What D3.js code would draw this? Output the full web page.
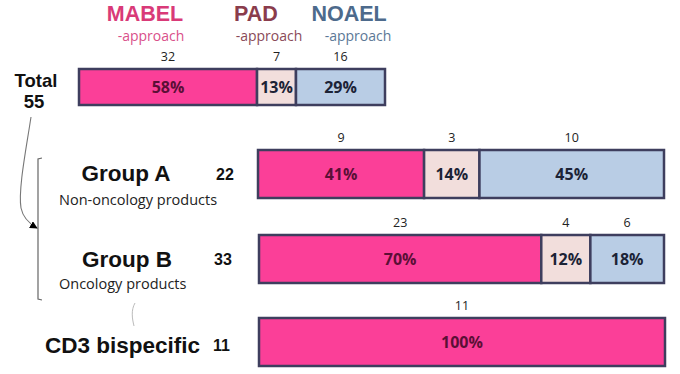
<!DOCTYPE html>
<html>
<head>
<meta charset="utf-8">
<script src="https://cdn.jsdelivr.net/npm/d3@7"></script>
<style>
  html, body { margin: 0; padding: 0; background: #fff; }
  svg { display: block; }
</style>
</head>
<body>
<svg id="chart" width="680" height="374"></svg>
<script>
// ---- data ----
const approaches = ["MABEL", "PAD", "NOAEL"];
const groups = ["Total", "Group A", "Group B", "CD3 bispecific"];
const subtitles = ["", "Non-oncology products", "Oncology products", ""];
const totals = [55, 22, 33, 11];
const mabelCounts = [32, 9, 23, 11];
const padCounts = [7, 3, 4, 0];
const noaelCounts = [16, 10, 6, 0];
const mabelPct = ["58%", "41%", "70%", "100%"];
const padPct = ["13%", "14%", "12%", ""];
const noaelPct = ["29%", "45%", "18%", ""];

// ---- styles ----
const fills = ["#FB3F98", "#F2DEDC", "#B9CDE5"];
const pctColors = ["#5B0F36", "#1C2336", "#1C2336"];
const headColors = ["#D93A78", "#8A3C4C", "#4D6A8C"];
const subColors = ["#D9508A", "#8A4A58", "#5C7896"];
const stroke = "#3E3E5E";
const sans = "'Liberation Sans', Arial, sans-serif";
const light = "'Open Sans', Lato, sans-serif";

const svg = d3.select("#chart");

// layout per row: bar extent and vertical position
const rows = [
  { x0: 79, x1: 385, y: 69, h: 36 },
  { x0: 258, x1: 664, y: 150, h: 48 },
  { x0: 259, x1: 664, y: 235, h: 48 },
  { x0: 259, x1: 665, y: 318, h: 48 }
];

// header
const headX = [145, 256, 349];
const subX = [151, 269, 358];
approaches.forEach((a, i) => {
  svg.append("text").attr("x", headX[i]).attr("y", 20.5)
    .attr("text-anchor", "middle").attr("font-family", sans)
    .attr("font-weight", "bold").attr("font-size", 21.5)
    .attr("fill", headColors[i]).text(a);
  svg.append("text").attr("x", subX[i]).attr("y", 40.5)
    .attr("text-anchor", "middle").attr("font-family", light)
    .attr("font-size", 14).attr("fill", subColors[i]).text("-approach");
});

groups.forEach((g, r) => {
  const L = rows[r];
  const x = d3.scaleLinear().domain([0, totals[r]]).range([L.x0, L.x1]);
  const counts = [mabelCounts[r], padCounts[r], noaelCounts[r]];
  const pcts = [mabelPct[r], padPct[r], noaelPct[r]];
  let cum = 0;
  const segs = counts.map((c, i) => {
    const s = { i, c, start: cum, end: cum + c, pct: pcts[i] };
    cum += c;
    return s;
  }).filter(s => s.c > 0);

  const gRow = svg.append("g");
  gRow.selectAll("rect").data(segs).join("rect")
    .attr("x", d => x(d.start)).attr("y", L.y)
    .attr("width", d => x(d.end) - x(d.start)).attr("height", L.h)
    .attr("fill", d => fills[d.i])
    .attr("stroke", stroke).attr("stroke-width", 2.5);

  gRow.selectAll("text.cnt").data(segs).join("text").attr("class", "cnt")
    .attr("x", d => (x(d.start) + x(d.end)) / 2).attr("y", L.y - 8)
    .attr("text-anchor", "middle").attr("font-family", light)
    .attr("font-size", 12.5).attr("fill", "#222").text(d => d.c);

  gRow.selectAll("text.pct").data(segs).join("text").attr("class", "pct")
    .attr("x", d => (x(d.start) + x(d.end)) / 2).attr("y", L.y + L.h / 2 + 6)
    .attr("text-anchor", "middle").attr("font-family", light)
    .attr("font-weight", "bold").attr("font-size", 16)
    .attr("fill", d => pctColors[d.i]).text(d => d.pct);
});

// left labels
svg.append("text").attr("x", 36).attr("y", 87).attr("text-anchor", "middle")
  .attr("font-family", sans).attr("font-weight", "bold").attr("font-size", 18.5)
  .attr("fill", "#111").text(groups[0]);
svg.append("text").attr("x", 34).attr("y", 108).attr("text-anchor", "middle")
  .attr("font-family", sans).attr("font-weight", "bold").attr("font-size", 18.5)
  .attr("fill", "#111").text(totals[0]);

const grpLabel = [null, { x: 126, y: 181, sy: 205, nx: 225, ny: 180 },
  { x: 127, y: 267, sy: 289, nx: 223, ny: 265 }];
[1, 2].forEach(r => {
  const p = grpLabel[r];
  svg.append("text").attr("x", p.x).attr("y", p.y).attr("text-anchor", "middle")
    .attr("font-family", sans).attr("font-weight", "bold").attr("font-size", 22.5)
    .attr("fill", "#111").text(groups[r]);
  svg.append("text").attr("x", 59).attr("y", p.sy)
    .attr("font-family", light).attr("font-size", 14.5)
    .attr("fill", "#222").text(subtitles[r]);
  svg.append("text").attr("x", p.nx).attr("y", p.ny).attr("text-anchor", "middle")
    .attr("font-family", sans).attr("font-weight", "bold").attr("font-size", 16)
    .attr("fill", "#111").text(totals[r]);
});
svg.append("text").attr("x", 45).attr("y", 353)
  .attr("font-family", sans).attr("font-weight", "bold").attr("font-size", 22.5)
  .attr("fill", "#111").text(groups[3]);
svg.append("text").attr("x", 213).attr("y", 351)
  .attr("font-family", sans).attr("font-weight", "bold").attr("font-size", 16)
  .attr("fill", "#111").text(totals[3]);

// bracket + arrow
svg.append("path")
  .attr("d", "M42,158 L38,159 L38,299 L42,300")
  .attr("fill", "none").attr("stroke", "#666").attr("stroke-width", 1.2);
svg.append("defs").append("marker").attr("id", "arr")
  .attr("viewBox", "0 0 10 10").attr("refX", 9).attr("refY", 5)
  .attr("markerWidth", 7).attr("markerHeight", 7).attr("orient", "auto")
  .append("path").attr("d", "M0,0 L10,5 L0,10 Z").attr("fill", "#000");
svg.append("path")
  .attr("d", "M31,117 C26,150 18,190 21,208 C23,218 30,224 37,228")
  .attr("fill", "none").attr("stroke", "#777").attr("stroke-width", 1.1)
  .attr("marker-end", "url(#arr)");
svg.append("path")
  .attr("d", "M135,303 C131,310 132,318 134,326")
  .attr("fill", "none").attr("stroke", "#bbb").attr("stroke-width", 1);
</script>
</body>
</html>
